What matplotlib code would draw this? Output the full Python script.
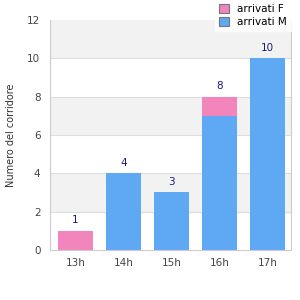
import matplotlib.pyplot as plt
import numpy as np

hours = ['13h', '14h', '15h', '16h', '17h']
arrivati_m = [0, 4, 3, 7, 10]
arrivati_f = [1, 0, 0, 1, 0]
totals = [1, 4, 3, 8, 10]

blue = '#5fa8f4'
pink = '#f285bb'

fig = plt.figure(figsize=(3, 3), dpi=100)
ax = fig.add_axes([0.167, 0.167, 0.803, 0.766])

# alternating bands
for lo in range(0, 12, 2):
    if (lo // 2) % 2 == 1:
        ax.axhspan(lo, lo + 2, color='#f2f2f2', zorder=0, lw=0)
for y in range(2, 12, 2):
    ax.axhline(y, color='#dddddd', lw=0.8, zorder=0.5)

x = np.arange(len(hours))
ax.bar(x, arrivati_m, width=0.73, color=blue, label='arrivati M', zorder=2)
ax.bar(x, arrivati_f, bottom=arrivati_m, width=0.73, color=pink, label='arrivati F', zorder=2)

for xi, t in zip(x, totals):
    ax.text(xi, t + 0.3, str(t), ha='center', va='bottom', fontsize=7.5, color='#1a1a80')

ax.set_xlim(-0.53, 4.49)
ax.set_ylim(0, 12)
ax.set_yticks(range(0, 13, 2))
ax.set_xticks(x)
ax.set_xticklabels(hours)
ax.tick_params(length=0, labelsize=7.5, labelcolor='#444444', pad=6)
ax.tick_params(axis='y', pad=7)
ax.spines['top'].set_visible(False)
for s in ['left', 'bottom', 'right']:
    ax.spines[s].set_color('#cccccc')
ax.set_ylabel('Numero del corridore', fontsize=7, color='#333333', labelpad=8)

h, l = ax.get_legend_handles_labels()
fig.legend(h[::-1], l[::-1], loc='upper right', bbox_to_anchor=(0.97, 1.0),
           fontsize=7.5, frameon=True, fancybox=False, edgecolor='white',
           handlelength=0.9, handleheight=0.9, borderaxespad=0, labelspacing=0.3,
           handletextpad=0.8)
for p in fig.legends[0].get_patches():
    p.set_edgecolor('#777777')
    p.set_linewidth(0.8)

fig.savefig('out.png', dpi=100)
